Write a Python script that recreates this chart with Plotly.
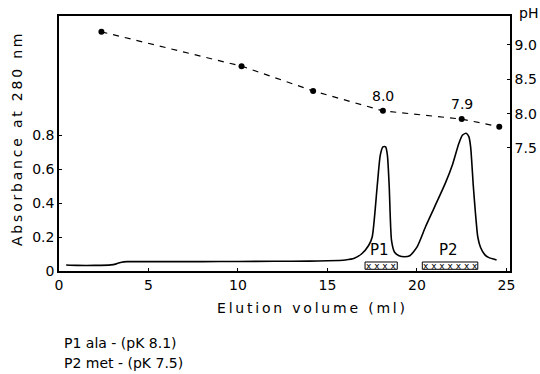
import plotly.graph_objects as go

# Absorbance at 280 nm vs elution volume
elution_ml = [0.4, 1.0, 2.0, 2.9, 3.2, 3.5, 3.8, 5.0, 8.0, 10.0, 12.0, 14.0, 15.0, 16.0, 16.5,
              16.9, 17.3, 17.5, 17.78, 17.95, 18.1, 18.25, 18.35, 18.45, 18.58, 18.75, 19.0,
              19.3, 19.6, 20.0, 20.48, 21.0, 21.6, 22.0, 22.34, 22.55, 22.75, 22.9, 23.0,
              23.15, 23.27, 23.4, 23.55, 23.8, 24.0, 24.45]
absorbance = [0.035, 0.033, 0.033, 0.036, 0.042, 0.052, 0.055, 0.055, 0.055, 0.056, 0.057,
              0.058, 0.06, 0.065, 0.075, 0.1, 0.15, 0.2, 0.5, 0.68, 0.73, 0.73, 0.68, 0.5,
              0.18, 0.11, 0.09, 0.084, 0.09, 0.14, 0.26, 0.38, 0.52, 0.63, 0.75, 0.8, 0.81,
              0.79, 0.73, 0.5, 0.34, 0.2, 0.14, 0.095, 0.08, 0.065]

# pH gradient
ph_x = [2.37, 10.2, 14.2, 18.1, 22.5, 24.6]
ph_y = [9.19, 8.69, 8.33, 8.04, 7.92, 7.81]
ph_labels = {3: "8.0", 4: "7.9"}

# Pooled fractions
pools = ["P1", "P2"]
pool_ranges = [[17.1, 18.9], [20.3, 23.4]]
pool_marks = ["x x x x", "x x x x x x x"]

x_ticks = [0, 5, 10, 15, 20, 25]
abs_ticks = [0, 0.2, 0.4, 0.6, 0.8]
abs_ticktext = ["0", "0.2", "0.4", "0.6", "0.8"]
ph_ticks = [7.5, 8.0, 8.5, 9.0]
ph_ticktext = ["7.5", "8.0", "8.5", "9.0"]

x_title = "Elution volume (ml)"
y_title = "Absorbance at 280 nm"
y2_title = "pH"
notes = ["P1 ala - (pK 8.1)", "P2 met - (pK 7.5)"]

FONT = "DejaVu Sans"
THIN = "\u2009"


def spaced(s, sep):
    return sep.join(list(s))


def f(size):
    return dict(size=size, color="black", family=FONT)


fig = go.Figure()
fig.add_trace(go.Scatter(x=elution_ml, y=absorbance, mode="lines",
                         line=dict(color="black", width=1.6, shape="spline", smoothing=0.6),
                         showlegend=False))
fig.add_trace(go.Scatter(x=ph_x, y=ph_y, yaxis="y2", mode="lines+markers",
                         line=dict(color="black", width=1.2, dash="6px,6px"),
                         marker=dict(color="black", size=6), showlegend=False))

for i, lab in ph_labels.items():
    fig.add_annotation(x=ph_x[i], y=ph_y[i], yref="y2", text=lab, showarrow=False,
                       yshift=15, font=f(14))

for name, (a, b), marks in zip(pools, pool_ranges, pool_marks):
    fig.add_shape(type="rect", x0=a, x1=b, y0=0.01, y1=0.053, xref="x", yref="y",
                  line=dict(color="black", width=1))
    fig.add_annotation(x=(a + b) / 2, y=0.031, text=marks, showarrow=False, font=f(9))
    fig.add_annotation(x=(a + b) / 2 - 0.1, y=0.125, text=name, showarrow=False, font=f(15))

# pH label above right axis
fig.add_annotation(x=1.04, y=1.012, xref="paper", yref="paper", text=y2_title,
                   showarrow=False, xanchor="center", yanchor="middle", font=f(14))

# x axis title
fig.add_annotation(x=(311 - 59) / 451, y=-(308 - 271) / 255, xref="paper", yref="paper",
                   text=spaced(x_title, THIN), showarrow=False, xanchor="center",
                   yanchor="middle", font=f(14))

# y axis title
fig.add_annotation(x=-(59 - 17) / 451, y=(271 - 140) / 255, xref="paper", yref="paper",
                   text=spaced(y_title, THIN), showarrow=False, textangle=-90,
                   xanchor="center", yanchor="middle", font=f(14))

for k, note in enumerate(notes):
    y_px = 343 + 20 * k
    fig.add_annotation(x=(62 - 59) / 451, y=-(y_px - 271) / 255, xref="paper", yref="paper",
                       text=note, showarrow=False, xanchor="left",
                       yanchor="middle", font=f(14))

axis_common = dict(showline=True, linecolor="black", linewidth=1.5, ticks="inside",
                   ticklen=3, tickcolor="black", showgrid=False, zeroline=False,
                   automargin=False, tickfont=f(14))

fig.update_layout(
    width=540, height=374, margin=dict(l=59, r=30, t=16, b=103),
    paper_bgcolor="white", plot_bgcolor="white",
    xaxis=dict(range=[0, 25.2], tickvals=x_ticks, mirror=True, **axis_common),
    yaxis=dict(range=[0, 1.5], tickvals=abs_ticks, ticktext=abs_ticktext, **axis_common),
    yaxis2=dict(range=[5.71, 9.42], tickvals=ph_ticks, ticktext=ph_ticktext,
                overlaying="y", side="right", **axis_common),
)

fig.write_html("out.html")
